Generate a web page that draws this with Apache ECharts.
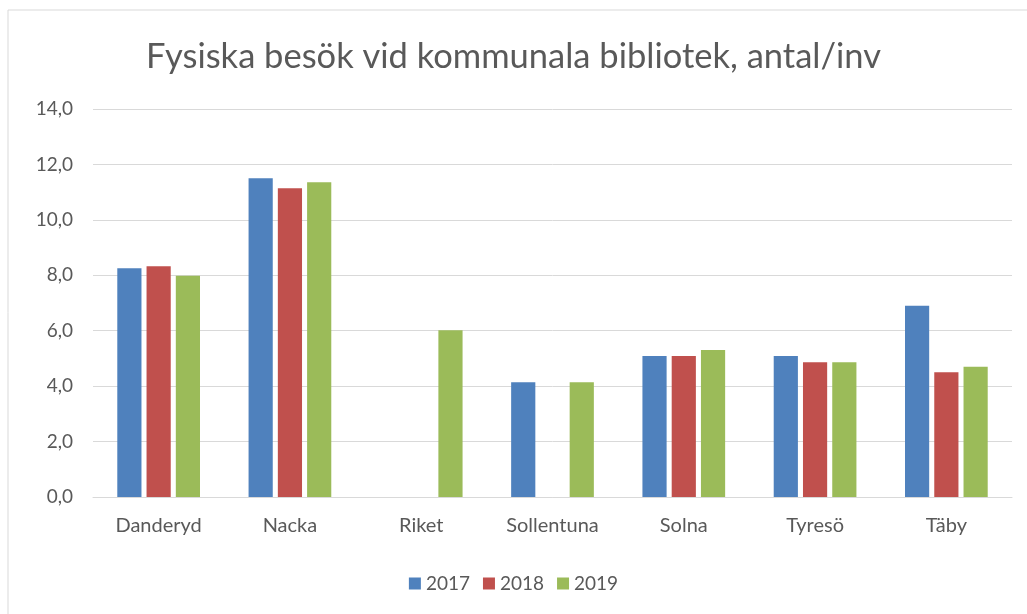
<!DOCTYPE html>
<html>
<head>
<meta charset="utf-8">
<script src="https://cdn.jsdelivr.net/npm/echarts@6/dist/echarts.min.js"></script>
<style>
  html, body { margin: 0; padding: 0; background: #fff; }
  #chart { width: 1027px; height: 614px; }
</style>
</head>
<body>
<div id="chart"></div>
<script>
const categories = ['Danderyd', 'Nacka', 'Riket', 'Sollentuna', 'Solna', 'Tyresö', 'Täby']
const years = ['2017', '2018', '2019']
const values2017 = [8.25, 11.5, null, 4.14, 5.09, 5.09, 6.9]
const values2018 = [8.33, 11.14, null, null, 5.09, 4.86, 4.5]
const values2019 = [7.98, 11.36, 6.02, 4.14, 5.3, 4.86, 4.7]
const yTicks = ['0,0', '2,0', '4,0', '6,0', '8,0', '10,0', '12,0', '14,0']

const colors = ['#4F81BD', '#C0504D', '#9BBB59']
const font = 'Lato, "Open Sans", sans-serif'

let myChart = echarts.init(document.getElementById('chart'))
let option = {
  animation: false,
  color: colors,
  textStyle: { fontFamily: font },
  graphic: [{
    type: 'rect',
    shape: { x: 8, y: 10, width: 1200, height: 800 },
    style: { fill: 'none', stroke: '#d9d9d9', lineWidth: 1 }
  }],
  title: {
    text: 'Fysiska besök vid kommunala bibliotek, antal/inv',
    left: 'center',
    top: 34,
    textStyle: { color: '#595959', fontSize: 34.5, fontWeight: 'normal', fontFamily: font }
  },
  legend: {
    data: years,
    top: 569,
    left: 'center',
    icon: 'rect',
    itemWidth: 12,
    itemHeight: 12,
    itemGap: 13,
    textStyle: { color: '#595959', fontSize: 19, fontFamily: font }
  },
  grid: { left: 93, right: 15, top: 109, bottom: 117 },
  xAxis: {
    type: 'category',
    data: categories,
    axisLine: { lineStyle: { color: '#d9d9d9', width: 1 } },
    axisTick: { show: false },
    axisLabel: { color: '#595959', fontSize: 20, margin: 19, interval: 0, fontFamily: font }
  },
  yAxis: {
    type: 'value',
    min: 0,
    max: 14,
    interval: 2,
    axisLine: { show: false },
    axisTick: { show: false },
    splitLine: { lineStyle: { color: '#d9d9d9', width: 1 } },
    axisLabel: {
      color: '#595959',
      fontSize: 19,
      margin: 20,
      fontFamily: font,
      formatter: v => yTicks[Math.round(v / 2)]
    }
  },
  series: [
    { name: years[0], type: 'bar', data: values2017, barGap: '21%', barCategoryGap: '37%' },
    { name: years[1], type: 'bar', data: values2018, barGap: '21%', barCategoryGap: '37%' },
    { name: years[2], type: 'bar', data: values2019, barGap: '21%', barCategoryGap: '37%' }
  ]
}
myChart.setOption(option)
</script>
</body>
</html>
